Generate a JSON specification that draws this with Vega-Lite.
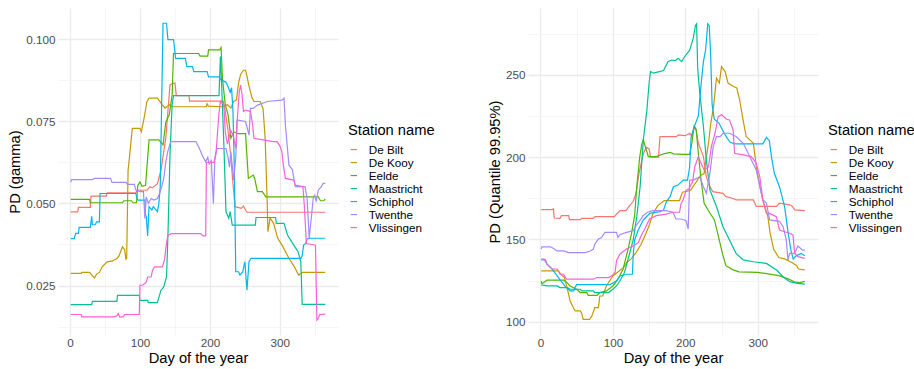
{
  "$schema": "https://vega.github.io/schema/vega-lite/v6.json",
  "background": "white",
  "padding": {"left": 7, "top": 8, "right": 0, "bottom": 0},
  "spacing": 52,
  "config": {
    "font": "Liberation Sans",
    "view": {"stroke": null},
    "axis": {
      "domain": false,
      "ticks": false,
      "labelColor": "#4D4D4D",
      "labelFontSize": 11.7,
      "titleFontSize": 14.7,
      "titleFontWeight": "normal",
      "titleColor": "#000000",
      "labelPadding": 3,
      "titlePadding": 3
    },
    "legend": {
      "symbolType": "stroke",
      "symbolSize": 40,
      "symbolStrokeWidth": 1.2,
      "labelFontSize": 11.7,
      "labelColor": "#000000",
      "titleFontSize": 14.7,
      "titleFontWeight": "normal",
      "titleColor": "#000000",
      "labelOffset": 9,
      "titlePadding": 6,
      "rowPadding": 0
    },
    "line": {"strokeWidth": 1.2}
  },
  "datasets": {
    "gamma": [
      {"station": "De Bilt", "day": 1, "pd": 0.0474}, {"station": "De Bilt", "day": 11, "pd": 0.0474}, {"station": "De Bilt", "day": 12, "pd": 0.0488}, {"station": "De Bilt", "day": 29, "pd": 0.0488}, {"station": "De Bilt", "day": 30, "pd": 0.0522}, {"station": "De Bilt", "day": 52, "pd": 0.0522}, {"station": "De Bilt", "day": 53, "pd": 0.0532}, {"station": "De Bilt", "day": 94, "pd": 0.0532}, {"station": "De Bilt", "day": 96, "pd": 0.054}, {"station": "De Bilt", "day": 110, "pd": 0.054}, {"station": "De Bilt", "day": 114, "pd": 0.055}, {"station": "De Bilt", "day": 118, "pd": 0.0548}, {"station": "De Bilt", "day": 125, "pd": 0.056}, {"station": "De Bilt", "day": 130, "pd": 0.06}, {"station": "De Bilt", "day": 137, "pd": 0.07}, {"station": "De Bilt", "day": 143, "pd": 0.0862}, {"station": "De Bilt", "day": 150, "pd": 0.0866}, {"station": "De Bilt", "day": 152, "pd": 0.0828}, {"station": "De Bilt", "day": 170, "pd": 0.0828}, {"station": "De Bilt", "day": 171, "pd": 0.0811}, {"station": "De Bilt", "day": 219, "pd": 0.0811}, {"station": "De Bilt", "day": 222, "pd": 0.078}, {"station": "De Bilt", "day": 226, "pd": 0.072}, {"station": "De Bilt", "day": 230, "pd": 0.064}, {"station": "De Bilt", "day": 233, "pd": 0.056}, {"station": "De Bilt", "day": 236, "pd": 0.049}, {"station": "De Bilt", "day": 245, "pd": 0.0485}, {"station": "De Bilt", "day": 248, "pd": 0.0492}, {"station": "De Bilt", "day": 251, "pd": 0.048}, {"station": "De Bilt", "day": 253, "pd": 0.0473}, {"station": "De Bilt", "day": 365, "pd": 0.0473},
      {"station": "De Kooy", "day": 1, "pd": 0.0287}, {"station": "De Kooy", "day": 16, "pd": 0.0287}, {"station": "De Kooy", "day": 17, "pd": 0.029}, {"station": "De Kooy", "day": 28, "pd": 0.029}, {"station": "De Kooy", "day": 32, "pd": 0.028}, {"station": "De Kooy", "day": 35, "pd": 0.0273}, {"station": "De Kooy", "day": 38, "pd": 0.0285}, {"station": "De Kooy", "day": 42, "pd": 0.029}, {"station": "De Kooy", "day": 46, "pd": 0.0307}, {"station": "De Kooy", "day": 53, "pd": 0.0322}, {"station": "De Kooy", "day": 61, "pd": 0.0325}, {"station": "De Kooy", "day": 67, "pd": 0.0332}, {"station": "De Kooy", "day": 70, "pd": 0.034}, {"station": "De Kooy", "day": 75, "pd": 0.0368}, {"station": "De Kooy", "day": 78, "pd": 0.036}, {"station": "De Kooy", "day": 80, "pd": 0.033}, {"station": "De Kooy", "day": 81, "pd": 0.0332}, {"station": "De Kooy", "day": 83, "pd": 0.06}, {"station": "De Kooy", "day": 85, "pd": 0.064}, {"station": "De Kooy", "day": 89, "pd": 0.0728}, {"station": "De Kooy", "day": 100, "pd": 0.0728}, {"station": "De Kooy", "day": 102, "pd": 0.0718}, {"station": "De Kooy", "day": 106, "pd": 0.076}, {"station": "De Kooy", "day": 110, "pd": 0.081}, {"station": "De Kooy", "day": 113, "pd": 0.082}, {"station": "De Kooy", "day": 125, "pd": 0.082}, {"station": "De Kooy", "day": 132, "pd": 0.08}, {"station": "De Kooy", "day": 136, "pd": 0.079}, {"station": "De Kooy", "day": 142, "pd": 0.08}, {"station": "De Kooy", "day": 146, "pd": 0.0794}, {"station": "De Kooy", "day": 195, "pd": 0.0794}, {"station": "De Kooy", "day": 196, "pd": 0.0803}, {"station": "De Kooy", "day": 198, "pd": 0.0796}, {"station": "De Kooy", "day": 218, "pd": 0.0794}, {"station": "De Kooy", "day": 225, "pd": 0.08}, {"station": "De Kooy", "day": 230, "pd": 0.079}, {"station": "De Kooy", "day": 234, "pd": 0.081}, {"station": "De Kooy", "day": 238, "pd": 0.0815}, {"station": "De Kooy", "day": 241, "pd": 0.0866}, {"station": "De Kooy", "day": 244, "pd": 0.0893}, {"station": "De Kooy", "day": 248, "pd": 0.0905}, {"station": "De Kooy", "day": 251, "pd": 0.0905}, {"station": "De Kooy", "day": 253, "pd": 0.0888}, {"station": "De Kooy", "day": 255, "pd": 0.0866}, {"station": "De Kooy", "day": 260, "pd": 0.0822}, {"station": "De Kooy", "day": 263, "pd": 0.081}, {"station": "De Kooy", "day": 272, "pd": 0.081}, {"station": "De Kooy", "day": 276, "pd": 0.0788}, {"station": "De Kooy", "day": 279, "pd": 0.07}, {"station": "De Kooy", "day": 282, "pd": 0.05}, {"station": "De Kooy", "day": 283, "pd": 0.0414}, {"station": "De Kooy", "day": 286, "pd": 0.0455}, {"station": "De Kooy", "day": 291, "pd": 0.044}, {"station": "De Kooy", "day": 297, "pd": 0.0394}, {"station": "De Kooy", "day": 304, "pd": 0.037}, {"station": "De Kooy", "day": 313, "pd": 0.0333}, {"station": "De Kooy", "day": 320, "pd": 0.031}, {"station": "De Kooy", "day": 327, "pd": 0.0282}, {"station": "De Kooy", "day": 332, "pd": 0.029}, {"station": "De Kooy", "day": 365, "pd": 0.029},
      {"station": "Eelde", "day": 1, "pd": 0.0512}, {"station": "Eelde", "day": 28, "pd": 0.0512}, {"station": "Eelde", "day": 29, "pd": 0.0502}, {"station": "Eelde", "day": 75, "pd": 0.0502}, {"station": "Eelde", "day": 77, "pd": 0.0508}, {"station": "Eelde", "day": 88, "pd": 0.0508}, {"station": "Eelde", "day": 90, "pd": 0.0502}, {"station": "Eelde", "day": 95, "pd": 0.0502}, {"station": "Eelde", "day": 97, "pd": 0.0555}, {"station": "Eelde", "day": 100, "pd": 0.0565}, {"station": "Eelde", "day": 103, "pd": 0.0552}, {"station": "Eelde", "day": 108, "pd": 0.0555}, {"station": "Eelde", "day": 113, "pd": 0.0693}, {"station": "Eelde", "day": 127, "pd": 0.0693}, {"station": "Eelde", "day": 133, "pd": 0.0678}, {"station": "Eelde", "day": 137, "pd": 0.0748}, {"station": "Eelde", "day": 142, "pd": 0.077}, {"station": "Eelde", "day": 146, "pd": 0.083}, {"station": "Eelde", "day": 148, "pd": 0.0956}, {"station": "Eelde", "day": 184, "pd": 0.0956}, {"station": "Eelde", "day": 186, "pd": 0.0948}, {"station": "Eelde", "day": 197, "pd": 0.0948}, {"station": "Eelde", "day": 198, "pd": 0.0967}, {"station": "Eelde", "day": 214, "pd": 0.0967}, {"station": "Eelde", "day": 216, "pd": 0.0974}, {"station": "Eelde", "day": 218, "pd": 0.088}, {"station": "Eelde", "day": 222, "pd": 0.08}, {"station": "Eelde", "day": 226, "pd": 0.077}, {"station": "Eelde", "day": 230, "pd": 0.0698}, {"station": "Eelde", "day": 234, "pd": 0.0718}, {"station": "Eelde", "day": 240, "pd": 0.0712}, {"station": "Eelde", "day": 251, "pd": 0.0712}, {"station": "Eelde", "day": 255, "pd": 0.0576}, {"station": "Eelde", "day": 262, "pd": 0.0586}, {"station": "Eelde", "day": 264, "pd": 0.0576}, {"station": "Eelde", "day": 268, "pd": 0.0536}, {"station": "Eelde", "day": 275, "pd": 0.0536}, {"station": "Eelde", "day": 280, "pd": 0.052}, {"station": "Eelde", "day": 355, "pd": 0.052}, {"station": "Eelde", "day": 358, "pd": 0.0508}, {"station": "Eelde", "day": 363, "pd": 0.0508}, {"station": "Eelde", "day": 365, "pd": 0.0514},
      {"station": "Maastricht", "day": 1, "pd": 0.0192}, {"station": "Maastricht", "day": 31, "pd": 0.0192}, {"station": "Maastricht", "day": 32, "pd": 0.0202}, {"station": "Maastricht", "day": 67, "pd": 0.0202}, {"station": "Maastricht", "day": 68, "pd": 0.022}, {"station": "Maastricht", "day": 99, "pd": 0.022}, {"station": "Maastricht", "day": 100, "pd": 0.0205}, {"station": "Maastricht", "day": 111, "pd": 0.0205}, {"station": "Maastricht", "day": 112, "pd": 0.0198}, {"station": "Maastricht", "day": 125, "pd": 0.0198}, {"station": "Maastricht", "day": 130, "pd": 0.0236}, {"station": "Maastricht", "day": 134, "pd": 0.0246}, {"station": "Maastricht", "day": 138, "pd": 0.0277}, {"station": "Maastricht", "day": 140, "pd": 0.04}, {"station": "Maastricht", "day": 143, "pd": 0.065}, {"station": "Maastricht", "day": 146, "pd": 0.08}, {"station": "Maastricht", "day": 148, "pd": 0.0828}, {"station": "Maastricht", "day": 213, "pd": 0.0828}, {"station": "Maastricht", "day": 215, "pd": 0.0947}, {"station": "Maastricht", "day": 217, "pd": 0.085}, {"station": "Maastricht", "day": 220, "pd": 0.0678}, {"station": "Maastricht", "day": 223, "pd": 0.0475}, {"station": "Maastricht", "day": 227, "pd": 0.0455}, {"station": "Maastricht", "day": 229, "pd": 0.0475}, {"station": "Maastricht", "day": 232, "pd": 0.0434}, {"station": "Maastricht", "day": 265, "pd": 0.0434}, {"station": "Maastricht", "day": 266, "pd": 0.0457}, {"station": "Maastricht", "day": 294, "pd": 0.0457}, {"station": "Maastricht", "day": 295, "pd": 0.0439}, {"station": "Maastricht", "day": 306, "pd": 0.0439}, {"station": "Maastricht", "day": 311, "pd": 0.0404}, {"station": "Maastricht", "day": 320, "pd": 0.0373}, {"station": "Maastricht", "day": 326, "pd": 0.0353}, {"station": "Maastricht", "day": 330, "pd": 0.0323}, {"station": "Maastricht", "day": 332, "pd": 0.0193}, {"station": "Maastricht", "day": 365, "pd": 0.0193},
      {"station": "Schiphol", "day": 1, "pd": 0.0393}, {"station": "Schiphol", "day": 6, "pd": 0.0393}, {"station": "Schiphol", "day": 8, "pd": 0.0409}, {"station": "Schiphol", "day": 12, "pd": 0.0409}, {"station": "Schiphol", "day": 13, "pd": 0.0427}, {"station": "Schiphol", "day": 29, "pd": 0.0427}, {"station": "Schiphol", "day": 31, "pd": 0.0461}, {"station": "Schiphol", "day": 32, "pd": 0.0435}, {"station": "Schiphol", "day": 36, "pd": 0.0435}, {"station": "Schiphol", "day": 38, "pd": 0.0444}, {"station": "Schiphol", "day": 42, "pd": 0.0444}, {"station": "Schiphol", "day": 43, "pd": 0.053}, {"station": "Schiphol", "day": 94, "pd": 0.053}, {"station": "Schiphol", "day": 97, "pd": 0.051}, {"station": "Schiphol", "day": 107, "pd": 0.051}, {"station": "Schiphol", "day": 108, "pd": 0.0465}, {"station": "Schiphol", "day": 109, "pd": 0.046}, {"station": "Schiphol", "day": 111, "pd": 0.0401}, {"station": "Schiphol", "day": 113, "pd": 0.049}, {"station": "Schiphol", "day": 117, "pd": 0.048}, {"station": "Schiphol", "day": 119, "pd": 0.049}, {"station": "Schiphol", "day": 123, "pd": 0.048}, {"station": "Schiphol", "day": 125, "pd": 0.0475}, {"station": "Schiphol", "day": 127, "pd": 0.05}, {"station": "Schiphol", "day": 129, "pd": 0.055}, {"station": "Schiphol", "day": 133, "pd": 0.1048}, {"station": "Schiphol", "day": 138, "pd": 0.1048}, {"station": "Schiphol", "day": 140, "pd": 0.0998}, {"station": "Schiphol", "day": 148, "pd": 0.0998}, {"station": "Schiphol", "day": 151, "pd": 0.0941}, {"station": "Schiphol", "day": 165, "pd": 0.0941}, {"station": "Schiphol", "day": 167, "pd": 0.0916}, {"station": "Schiphol", "day": 175, "pd": 0.0916}, {"station": "Schiphol", "day": 177, "pd": 0.0901}, {"station": "Schiphol", "day": 196, "pd": 0.0901}, {"station": "Schiphol", "day": 198, "pd": 0.0885}, {"station": "Schiphol", "day": 213, "pd": 0.0885}, {"station": "Schiphol", "day": 216, "pd": 0.0875}, {"station": "Schiphol", "day": 223, "pd": 0.0869}, {"station": "Schiphol", "day": 226, "pd": 0.0855}, {"station": "Schiphol", "day": 229, "pd": 0.0838}, {"station": "Schiphol", "day": 231, "pd": 0.0852}, {"station": "Schiphol", "day": 233, "pd": 0.078}, {"station": "Schiphol", "day": 235, "pd": 0.06}, {"station": "Schiphol", "day": 237, "pd": 0.0292}, {"station": "Schiphol", "day": 241, "pd": 0.0292}, {"station": "Schiphol", "day": 243, "pd": 0.0282}, {"station": "Schiphol", "day": 247, "pd": 0.0292}, {"station": "Schiphol", "day": 250, "pd": 0.0323}, {"station": "Schiphol", "day": 253, "pd": 0.0236}, {"station": "Schiphol", "day": 256, "pd": 0.0323}, {"station": "Schiphol", "day": 259, "pd": 0.0333}, {"station": "Schiphol", "day": 330, "pd": 0.0333}, {"station": "Schiphol", "day": 332, "pd": 0.034}, {"station": "Schiphol", "day": 334, "pd": 0.0373}, {"station": "Schiphol", "day": 337, "pd": 0.0378}, {"station": "Schiphol", "day": 339, "pd": 0.0392}, {"station": "Schiphol", "day": 343, "pd": 0.0394}, {"station": "Schiphol", "day": 365, "pd": 0.0394},
      {"station": "Twenthe", "day": 1, "pd": 0.0564}, {"station": "Twenthe", "day": 2, "pd": 0.0572}, {"station": "Twenthe", "day": 32, "pd": 0.0572}, {"station": "Twenthe", "day": 35, "pd": 0.0576}, {"station": "Twenthe", "day": 58, "pd": 0.0576}, {"station": "Twenthe", "day": 60, "pd": 0.0564}, {"station": "Twenthe", "day": 80, "pd": 0.0564}, {"station": "Twenthe", "day": 82, "pd": 0.0558}, {"station": "Twenthe", "day": 92, "pd": 0.0558}, {"station": "Twenthe", "day": 94, "pd": 0.0541}, {"station": "Twenthe", "day": 100, "pd": 0.0536}, {"station": "Twenthe", "day": 105, "pd": 0.0536}, {"station": "Twenthe", "day": 107, "pd": 0.0454}, {"station": "Twenthe", "day": 109, "pd": 0.052}, {"station": "Twenthe", "day": 112, "pd": 0.05}, {"station": "Twenthe", "day": 116, "pd": 0.0515}, {"station": "Twenthe", "day": 120, "pd": 0.051}, {"station": "Twenthe", "day": 125, "pd": 0.0515}, {"station": "Twenthe", "day": 128, "pd": 0.053}, {"station": "Twenthe", "day": 131, "pd": 0.055}, {"station": "Twenthe", "day": 134, "pd": 0.0575}, {"station": "Twenthe", "day": 137, "pd": 0.0627}, {"station": "Twenthe", "day": 140, "pd": 0.066}, {"station": "Twenthe", "day": 144, "pd": 0.0688}, {"station": "Twenthe", "day": 180, "pd": 0.0688}, {"station": "Twenthe", "day": 185, "pd": 0.0667}, {"station": "Twenthe", "day": 190, "pd": 0.0642}, {"station": "Twenthe", "day": 194, "pd": 0.0627}, {"station": "Twenthe", "day": 197, "pd": 0.064}, {"station": "Twenthe", "day": 199, "pd": 0.062}, {"station": "Twenthe", "day": 202, "pd": 0.063}, {"station": "Twenthe", "day": 205, "pd": 0.05}, {"station": "Twenthe", "day": 207, "pd": 0.063}, {"station": "Twenthe", "day": 210, "pd": 0.0667}, {"station": "Twenthe", "day": 223, "pd": 0.0667}, {"station": "Twenthe", "day": 226, "pd": 0.064}, {"station": "Twenthe", "day": 228, "pd": 0.061}, {"station": "Twenthe", "day": 230, "pd": 0.0657}, {"station": "Twenthe", "day": 234, "pd": 0.0571}, {"station": "Twenthe", "day": 237, "pd": 0.064}, {"station": "Twenthe", "day": 239, "pd": 0.0754}, {"station": "Twenthe", "day": 251, "pd": 0.0749}, {"station": "Twenthe", "day": 256, "pd": 0.0708}, {"station": "Twenthe", "day": 258, "pd": 0.0789}, {"station": "Twenthe", "day": 262, "pd": 0.0789}, {"station": "Twenthe", "day": 268, "pd": 0.0799}, {"station": "Twenthe", "day": 282, "pd": 0.081}, {"station": "Twenthe", "day": 303, "pd": 0.0814}, {"station": "Twenthe", "day": 306, "pd": 0.082}, {"station": "Twenthe", "day": 308, "pd": 0.0738}, {"station": "Twenthe", "day": 313, "pd": 0.0617}, {"station": "Twenthe", "day": 318, "pd": 0.0602}, {"station": "Twenthe", "day": 322, "pd": 0.0551}, {"station": "Twenthe", "day": 336, "pd": 0.0551}, {"station": "Twenthe", "day": 339, "pd": 0.0515}, {"station": "Twenthe", "day": 342, "pd": 0.0394}, {"station": "Twenthe", "day": 345, "pd": 0.0455}, {"station": "Twenthe", "day": 348, "pd": 0.052}, {"station": "Twenthe", "day": 350, "pd": 0.0525}, {"station": "Twenthe", "day": 352, "pd": 0.0505}, {"station": "Twenthe", "day": 355, "pd": 0.054}, {"station": "Twenthe", "day": 359, "pd": 0.055}, {"station": "Twenthe", "day": 362, "pd": 0.0561}, {"station": "Twenthe", "day": 365, "pd": 0.0561},
      {"station": "Vlissingen", "day": 1, "pd": 0.0162}, {"station": "Vlissingen", "day": 16, "pd": 0.0162}, {"station": "Vlissingen", "day": 17, "pd": 0.0155}, {"station": "Vlissingen", "day": 63, "pd": 0.0155}, {"station": "Vlissingen", "day": 67, "pd": 0.0158}, {"station": "Vlissingen", "day": 69, "pd": 0.0165}, {"station": "Vlissingen", "day": 71, "pd": 0.0155}, {"station": "Vlissingen", "day": 76, "pd": 0.0155}, {"station": "Vlissingen", "day": 78, "pd": 0.0162}, {"station": "Vlissingen", "day": 99, "pd": 0.0162}, {"station": "Vlissingen", "day": 100, "pd": 0.0251}, {"station": "Vlissingen", "day": 104, "pd": 0.0251}, {"station": "Vlissingen", "day": 106, "pd": 0.0255}, {"station": "Vlissingen", "day": 109, "pd": 0.026}, {"station": "Vlissingen", "day": 111, "pd": 0.0276}, {"station": "Vlissingen", "day": 116, "pd": 0.0276}, {"station": "Vlissingen", "day": 118, "pd": 0.0297}, {"station": "Vlissingen", "day": 121, "pd": 0.0307}, {"station": "Vlissingen", "day": 132, "pd": 0.0307}, {"station": "Vlissingen", "day": 135, "pd": 0.0327}, {"station": "Vlissingen", "day": 138, "pd": 0.038}, {"station": "Vlissingen", "day": 140, "pd": 0.0403}, {"station": "Vlissingen", "day": 145, "pd": 0.0408}, {"station": "Vlissingen", "day": 187, "pd": 0.0408}, {"station": "Vlissingen", "day": 190, "pd": 0.0401}, {"station": "Vlissingen", "day": 194, "pd": 0.0401}, {"station": "Vlissingen", "day": 195, "pd": 0.0625}, {"station": "Vlissingen", "day": 206, "pd": 0.0625}, {"station": "Vlissingen", "day": 209, "pd": 0.066}, {"station": "Vlissingen", "day": 213, "pd": 0.0774}, {"station": "Vlissingen", "day": 215, "pd": 0.081}, {"station": "Vlissingen", "day": 220, "pd": 0.08}, {"station": "Vlissingen", "day": 222, "pd": 0.0717}, {"station": "Vlissingen", "day": 225, "pd": 0.068}, {"station": "Vlissingen", "day": 230, "pd": 0.0722}, {"station": "Vlissingen", "day": 234, "pd": 0.07}, {"station": "Vlissingen", "day": 237, "pd": 0.0667}, {"station": "Vlissingen", "day": 239, "pd": 0.0749}, {"station": "Vlissingen", "day": 242, "pd": 0.084}, {"station": "Vlissingen", "day": 244, "pd": 0.086}, {"station": "Vlissingen", "day": 246, "pd": 0.083}, {"station": "Vlissingen", "day": 248, "pd": 0.078}, {"station": "Vlissingen", "day": 251, "pd": 0.0784}, {"station": "Vlissingen", "day": 258, "pd": 0.078}, {"station": "Vlissingen", "day": 261, "pd": 0.074}, {"station": "Vlissingen", "day": 263, "pd": 0.0698}, {"station": "Vlissingen", "day": 291, "pd": 0.0688}, {"station": "Vlissingen", "day": 296, "pd": 0.0688}, {"station": "Vlissingen", "day": 300, "pd": 0.0675}, {"station": "Vlissingen", "day": 303, "pd": 0.0657}, {"station": "Vlissingen", "day": 305, "pd": 0.0617}, {"station": "Vlissingen", "day": 308, "pd": 0.0576}, {"station": "Vlissingen", "day": 320, "pd": 0.0571}, {"station": "Vlissingen", "day": 322, "pd": 0.0556}, {"station": "Vlissingen", "day": 333, "pd": 0.0551}, {"station": "Vlissingen", "day": 335, "pd": 0.0495}, {"station": "Vlissingen", "day": 338, "pd": 0.0378}, {"station": "Vlissingen", "day": 351, "pd": 0.0373}, {"station": "Vlissingen", "day": 353, "pd": 0.0145}, {"station": "Vlissingen", "day": 355, "pd": 0.015}, {"station": "Vlissingen", "day": 357, "pd": 0.0162}, {"station": "Vlissingen", "day": 365, "pd": 0.0163}
    ],
    "quantile": [
      {"station": "De Bilt", "day": 1, "pd": 168.1}, {"station": "De Bilt", "day": 16, "pd": 168.1}, {"station": "De Bilt", "day": 18, "pd": 168.5}, {"station": "De Bilt", "day": 19, "pd": 163}, {"station": "De Bilt", "day": 27, "pd": 162.8}, {"station": "De Bilt", "day": 29, "pd": 164.4}, {"station": "De Bilt", "day": 39, "pd": 164.4}, {"station": "De Bilt", "day": 40, "pd": 162}, {"station": "De Bilt", "day": 55, "pd": 162}, {"station": "De Bilt", "day": 57, "pd": 162.8}, {"station": "De Bilt", "day": 73, "pd": 162.8}, {"station": "De Bilt", "day": 75, "pd": 163.8}, {"station": "De Bilt", "day": 102, "pd": 163.8}, {"station": "De Bilt", "day": 105, "pd": 165.4}, {"station": "De Bilt", "day": 110, "pd": 167.5}, {"station": "De Bilt", "day": 118, "pd": 167.5}, {"station": "De Bilt", "day": 123, "pd": 170.5}, {"station": "De Bilt", "day": 128, "pd": 173}, {"station": "De Bilt", "day": 132, "pd": 178}, {"station": "De Bilt", "day": 136, "pd": 190}, {"station": "De Bilt", "day": 142, "pd": 202}, {"station": "De Bilt", "day": 146, "pd": 206}, {"station": "De Bilt", "day": 150, "pd": 205}, {"station": "De Bilt", "day": 152, "pd": 200}, {"station": "De Bilt", "day": 163, "pd": 200}, {"station": "De Bilt", "day": 165, "pd": 212.5}, {"station": "De Bilt", "day": 188, "pd": 212.5}, {"station": "De Bilt", "day": 190, "pd": 213.5}, {"station": "De Bilt", "day": 200, "pd": 213}, {"station": "De Bilt", "day": 206, "pd": 214.5}, {"station": "De Bilt", "day": 209, "pd": 213}, {"station": "De Bilt", "day": 213, "pd": 218.6}, {"station": "De Bilt", "day": 215, "pd": 216}, {"station": "De Bilt", "day": 218, "pd": 208.4}, {"station": "De Bilt", "day": 225, "pd": 200.3}, {"station": "De Bilt", "day": 229, "pd": 188}, {"station": "De Bilt", "day": 234, "pd": 182}, {"station": "De Bilt", "day": 238, "pd": 179}, {"station": "De Bilt", "day": 252, "pd": 178}, {"station": "De Bilt", "day": 256, "pd": 176}, {"station": "De Bilt", "day": 265, "pd": 175}, {"station": "De Bilt", "day": 270, "pd": 174}, {"station": "De Bilt", "day": 294, "pd": 174}, {"station": "De Bilt", "day": 298, "pd": 170}, {"station": "De Bilt", "day": 326, "pd": 170}, {"station": "De Bilt", "day": 330, "pd": 172}, {"station": "De Bilt", "day": 344, "pd": 171}, {"station": "De Bilt", "day": 348, "pd": 170}, {"station": "De Bilt", "day": 351, "pd": 167.9}, {"station": "De Bilt", "day": 365, "pd": 167.5},
      {"station": "De Kooy", "day": 1, "pd": 130.9}, {"station": "De Kooy", "day": 25, "pd": 130.9}, {"station": "De Kooy", "day": 27, "pd": 129.4}, {"station": "De Kooy", "day": 30, "pd": 128}, {"station": "De Kooy", "day": 33, "pd": 127}, {"station": "De Kooy", "day": 36, "pd": 122}, {"station": "De Kooy", "day": 41, "pd": 112.6}, {"station": "De Kooy", "day": 46, "pd": 108}, {"station": "De Kooy", "day": 48, "pd": 106.5}, {"station": "De Kooy", "day": 55, "pd": 106.5}, {"station": "De Kooy", "day": 57, "pd": 105}, {"station": "De Kooy", "day": 59, "pd": 101.4}, {"station": "De Kooy", "day": 68, "pd": 101.4}, {"station": "De Kooy", "day": 71, "pd": 103.4}, {"station": "De Kooy", "day": 75, "pd": 108.5}, {"station": "De Kooy", "day": 80, "pd": 108.5}, {"station": "De Kooy", "day": 82, "pd": 115.6}, {"station": "De Kooy", "day": 86, "pd": 115.6}, {"station": "De Kooy", "day": 91, "pd": 121.7}, {"station": "De Kooy", "day": 100, "pd": 127.8}, {"station": "De Kooy", "day": 109, "pd": 130.9}, {"station": "De Kooy", "day": 115, "pd": 133}, {"station": "De Kooy", "day": 119, "pd": 136}, {"station": "De Kooy", "day": 125, "pd": 138}, {"station": "De Kooy", "day": 132, "pd": 142}, {"station": "De Kooy", "day": 139, "pd": 147}, {"station": "De Kooy", "day": 145, "pd": 153}, {"station": "De Kooy", "day": 150, "pd": 158.3}, {"station": "De Kooy", "day": 155, "pd": 165.4}, {"station": "De Kooy", "day": 162, "pd": 170.5}, {"station": "De Kooy", "day": 171, "pd": 173.6}, {"station": "De Kooy", "day": 192, "pd": 173.6}, {"station": "De Kooy", "day": 196, "pd": 178.7}, {"station": "De Kooy", "day": 207, "pd": 179.7}, {"station": "De Kooy", "day": 212, "pd": 183}, {"station": "De Kooy", "day": 215, "pd": 184.8}, {"station": "De Kooy", "day": 221, "pd": 188.8}, {"station": "De Kooy", "day": 226, "pd": 190}, {"station": "De Kooy", "day": 229, "pd": 200}, {"station": "De Kooy", "day": 232, "pd": 208.4}, {"station": "De Kooy", "day": 235, "pd": 220}, {"station": "De Kooy", "day": 239, "pd": 230.7}, {"station": "De Kooy", "day": 243, "pd": 248}, {"station": "De Kooy", "day": 247, "pd": 245}, {"station": "De Kooy", "day": 250, "pd": 255}, {"station": "De Kooy", "day": 255, "pd": 252}, {"station": "De Kooy", "day": 259, "pd": 245}, {"station": "De Kooy", "day": 266, "pd": 243}, {"station": "De Kooy", "day": 271, "pd": 242}, {"station": "De Kooy", "day": 275, "pd": 234.8}, {"station": "De Kooy", "day": 280, "pd": 222}, {"station": "De Kooy", "day": 284, "pd": 212.5}, {"station": "De Kooy", "day": 289, "pd": 210.5}, {"station": "De Kooy", "day": 294, "pd": 208.4}, {"station": "De Kooy", "day": 298, "pd": 194.2}, {"station": "De Kooy", "day": 303, "pd": 182}, {"station": "De Kooy", "day": 307, "pd": 174}, {"station": "De Kooy", "day": 314, "pd": 163.8}, {"station": "De Kooy", "day": 317, "pd": 154}, {"station": "De Kooy", "day": 322, "pd": 144}, {"station": "De Kooy", "day": 329, "pd": 139}, {"station": "De Kooy", "day": 338, "pd": 138}, {"station": "De Kooy", "day": 347, "pd": 136}, {"station": "De Kooy", "day": 354, "pd": 134}, {"station": "De Kooy", "day": 356, "pd": 132}, {"station": "De Kooy", "day": 365, "pd": 131.5},
      {"station": "Eelde", "day": 1, "pd": 124.6}, {"station": "Eelde", "day": 2, "pd": 123}, {"station": "Eelde", "day": 5, "pd": 124}, {"station": "Eelde", "day": 9, "pd": 125.2}, {"station": "Eelde", "day": 32, "pd": 125.2}, {"station": "Eelde", "day": 36, "pd": 124}, {"station": "Eelde", "day": 41, "pd": 121.7}, {"station": "Eelde", "day": 50, "pd": 119.7}, {"station": "Eelde", "day": 55, "pd": 117.7}, {"station": "Eelde", "day": 64, "pd": 117.7}, {"station": "Eelde", "day": 66, "pd": 116}, {"station": "Eelde", "day": 78, "pd": 116}, {"station": "Eelde", "day": 82, "pd": 117.7}, {"station": "Eelde", "day": 91, "pd": 118.7}, {"station": "Eelde", "day": 100, "pd": 121.7}, {"station": "Eelde", "day": 107, "pd": 125.8}, {"station": "Eelde", "day": 114, "pd": 131.9}, {"station": "Eelde", "day": 121, "pd": 144}, {"station": "Eelde", "day": 126, "pd": 154.3}, {"station": "Eelde", "day": 130, "pd": 164.4}, {"station": "Eelde", "day": 133, "pd": 182}, {"station": "Eelde", "day": 137, "pd": 200}, {"station": "Eelde", "day": 140, "pd": 208}, {"station": "Eelde", "day": 142, "pd": 210.5}, {"station": "Eelde", "day": 145, "pd": 206}, {"station": "Eelde", "day": 149, "pd": 200.3}, {"station": "Eelde", "day": 160, "pd": 200.3}, {"station": "Eelde", "day": 170, "pd": 202}, {"station": "Eelde", "day": 179, "pd": 202.8}, {"station": "Eelde", "day": 184, "pd": 202}, {"station": "Eelde", "day": 197, "pd": 201.6}, {"station": "Eelde", "day": 206, "pd": 201.6}, {"station": "Eelde", "day": 209, "pd": 208.4}, {"station": "Eelde", "day": 212, "pd": 218.6}, {"station": "Eelde", "day": 215, "pd": 217}, {"station": "Eelde", "day": 218, "pd": 202}, {"station": "Eelde", "day": 222, "pd": 185}, {"station": "Eelde", "day": 226, "pd": 172}, {"station": "Eelde", "day": 234, "pd": 166}, {"station": "Eelde", "day": 240, "pd": 162}, {"station": "Eelde", "day": 244, "pd": 155}, {"station": "Eelde", "day": 251, "pd": 142}, {"station": "Eelde", "day": 256, "pd": 134}, {"station": "Eelde", "day": 266, "pd": 131.5}, {"station": "Eelde", "day": 274, "pd": 130.3}, {"station": "Eelde", "day": 300, "pd": 130}, {"station": "Eelde", "day": 329, "pd": 128}, {"station": "Eelde", "day": 342, "pd": 126}, {"station": "Eelde", "day": 352, "pd": 124}, {"station": "Eelde", "day": 358, "pd": 123.7}, {"station": "Eelde", "day": 365, "pd": 124.5},
      {"station": "Maastricht", "day": 1, "pd": 122.3}, {"station": "Maastricht", "day": 5, "pd": 122}, {"station": "Maastricht", "day": 9, "pd": 121.7}, {"station": "Maastricht", "day": 23, "pd": 121.7}, {"station": "Maastricht", "day": 27, "pd": 120.7}, {"station": "Maastricht", "day": 37, "pd": 120.7}, {"station": "Maastricht", "day": 41, "pd": 119.7}, {"station": "Maastricht", "day": 55, "pd": 119.7}, {"station": "Maastricht", "day": 57, "pd": 118.7}, {"station": "Maastricht", "day": 73, "pd": 118.7}, {"station": "Maastricht", "day": 75, "pd": 117.7}, {"station": "Maastricht", "day": 94, "pd": 117.7}, {"station": "Maastricht", "day": 100, "pd": 119.7}, {"station": "Maastricht", "day": 105, "pd": 121.7}, {"station": "Maastricht", "day": 111, "pd": 125.8}, {"station": "Maastricht", "day": 116, "pd": 129.9}, {"station": "Maastricht", "day": 121, "pd": 138}, {"station": "Maastricht", "day": 128, "pd": 149.6}, {"station": "Maastricht", "day": 133, "pd": 163.8}, {"station": "Maastricht", "day": 137.6, "pd": 182}, {"station": "Maastricht", "day": 142, "pd": 210.5}, {"station": "Maastricht", "day": 147, "pd": 228.7}, {"station": "Maastricht", "day": 150, "pd": 245}, {"station": "Maastricht", "day": 152, "pd": 252}, {"station": "Maastricht", "day": 156, "pd": 251}, {"station": "Maastricht", "day": 160, "pd": 251.5}, {"station": "Maastricht", "day": 170, "pd": 252.6}, {"station": "Maastricht", "day": 176, "pd": 258}, {"station": "Maastricht", "day": 181, "pd": 259}, {"station": "Maastricht", "day": 186, "pd": 258.6}, {"station": "Maastricht", "day": 190, "pd": 260}, {"station": "Maastricht", "day": 195, "pd": 258}, {"station": "Maastricht", "day": 199, "pd": 261}, {"station": "Maastricht", "day": 206, "pd": 265}, {"station": "Maastricht", "day": 209, "pd": 269.3}, {"station": "Maastricht", "day": 211, "pd": 272.3}, {"station": "Maastricht", "day": 214, "pd": 280}, {"station": "Maastricht", "day": 215.6, "pd": 281}, {"station": "Maastricht", "day": 217, "pd": 255}, {"station": "Maastricht", "day": 218, "pd": 249}, {"station": "Maastricht", "day": 220, "pd": 238.8}, {"station": "Maastricht", "day": 225, "pd": 218.6}, {"station": "Maastricht", "day": 229, "pd": 198.3}, {"station": "Maastricht", "day": 234, "pd": 180}, {"station": "Maastricht", "day": 243, "pd": 170}, {"station": "Maastricht", "day": 252, "pd": 157.7}, {"station": "Maastricht", "day": 261, "pd": 149.6}, {"station": "Maastricht", "day": 270, "pd": 141.5}, {"station": "Maastricht", "day": 280, "pd": 137.5}, {"station": "Maastricht", "day": 294, "pd": 136.4}, {"station": "Maastricht", "day": 312, "pd": 135.4}, {"station": "Maastricht", "day": 326, "pd": 131.4}, {"station": "Maastricht", "day": 335, "pd": 127.3}, {"station": "Maastricht", "day": 344, "pd": 124.3}, {"station": "Maastricht", "day": 355, "pd": 123.3}, {"station": "Maastricht", "day": 365, "pd": 122.8},
      {"station": "Schiphol", "day": 1, "pd": 137.6}, {"station": "Schiphol", "day": 7, "pd": 137.6}, {"station": "Schiphol", "day": 9, "pd": 135}, {"station": "Schiphol", "day": 16, "pd": 132}, {"station": "Schiphol", "day": 23, "pd": 127.8}, {"station": "Schiphol", "day": 28, "pd": 125}, {"station": "Schiphol", "day": 32, "pd": 122.7}, {"station": "Schiphol", "day": 35, "pd": 121}, {"station": "Schiphol", "day": 41, "pd": 118.7}, {"station": "Schiphol", "day": 46, "pd": 118.7}, {"station": "Schiphol", "day": 48, "pd": 121}, {"station": "Schiphol", "day": 50, "pd": 122.5}, {"station": "Schiphol", "day": 96, "pd": 122.5}, {"station": "Schiphol", "day": 100, "pd": 123.5}, {"station": "Schiphol", "day": 105, "pd": 124.8}, {"station": "Schiphol", "day": 110, "pd": 127.8}, {"station": "Schiphol", "day": 119, "pd": 128.8}, {"station": "Schiphol", "day": 127, "pd": 128.8}, {"station": "Schiphol", "day": 128, "pd": 140}, {"station": "Schiphol", "day": 130, "pd": 149.6}, {"station": "Schiphol", "day": 135, "pd": 155.7}, {"station": "Schiphol", "day": 142, "pd": 161.8}, {"station": "Schiphol", "day": 151, "pd": 165.8}, {"station": "Schiphol", "day": 165, "pd": 166.9}, {"station": "Schiphol", "day": 170, "pd": 167.9}, {"station": "Schiphol", "day": 174, "pd": 173}, {"station": "Schiphol", "day": 179, "pd": 176}, {"station": "Schiphol", "day": 183.5, "pd": 182}, {"station": "Schiphol", "day": 190, "pd": 183}, {"station": "Schiphol", "day": 197, "pd": 186}, {"station": "Schiphol", "day": 203, "pd": 186}, {"station": "Schiphol", "day": 206, "pd": 194}, {"station": "Schiphol", "day": 208, "pd": 212}, {"station": "Schiphol", "day": 212, "pd": 218}, {"station": "Schiphol", "day": 218, "pd": 225}, {"station": "Schiphol", "day": 222, "pd": 245}, {"station": "Schiphol", "day": 225, "pd": 258}, {"station": "Schiphol", "day": 228, "pd": 265}, {"station": "Schiphol", "day": 231, "pd": 281}, {"station": "Schiphol", "day": 233, "pd": 280}, {"station": "Schiphol", "day": 235, "pd": 262}, {"station": "Schiphol", "day": 237, "pd": 232}, {"station": "Schiphol", "day": 240, "pd": 223}, {"station": "Schiphol", "day": 246, "pd": 221}, {"station": "Schiphol", "day": 252, "pd": 216}, {"station": "Schiphol", "day": 257, "pd": 212}, {"station": "Schiphol", "day": 262, "pd": 209}, {"station": "Schiphol", "day": 268, "pd": 208}, {"station": "Schiphol", "day": 307, "pd": 208}, {"station": "Schiphol", "day": 312, "pd": 212}, {"station": "Schiphol", "day": 316, "pd": 210}, {"station": "Schiphol", "day": 319, "pd": 200}, {"station": "Schiphol", "day": 323, "pd": 190}, {"station": "Schiphol", "day": 330, "pd": 182}, {"station": "Schiphol", "day": 337, "pd": 170}, {"station": "Schiphol", "day": 342, "pd": 154}, {"station": "Schiphol", "day": 346, "pd": 143}, {"station": "Schiphol", "day": 349, "pd": 138}, {"station": "Schiphol", "day": 353, "pd": 140}, {"station": "Schiphol", "day": 360, "pd": 141.5}, {"station": "Schiphol", "day": 365, "pd": 140},
      {"station": "Twenthe", "day": 1, "pd": 144.1}, {"station": "Twenthe", "day": 2, "pd": 145.5}, {"station": "Twenthe", "day": 14, "pd": 145.5}, {"station": "Twenthe", "day": 18, "pd": 144.5}, {"station": "Twenthe", "day": 23, "pd": 143}, {"station": "Twenthe", "day": 32, "pd": 143}, {"station": "Twenthe", "day": 39, "pd": 142}, {"station": "Twenthe", "day": 62, "pd": 142}, {"station": "Twenthe", "day": 68, "pd": 142.8}, {"station": "Twenthe", "day": 73, "pd": 144}, {"station": "Twenthe", "day": 75, "pd": 147.1}, {"station": "Twenthe", "day": 80, "pd": 150.2}, {"station": "Twenthe", "day": 84, "pd": 151}, {"station": "Twenthe", "day": 89, "pd": 154.3}, {"station": "Twenthe", "day": 105, "pd": 154.3}, {"station": "Twenthe", "day": 107, "pd": 151.2}, {"station": "Twenthe", "day": 110, "pd": 153}, {"station": "Twenthe", "day": 119, "pd": 154.3}, {"station": "Twenthe", "day": 128, "pd": 155.3}, {"station": "Twenthe", "day": 132, "pd": 158.3}, {"station": "Twenthe", "day": 139, "pd": 162.4}, {"station": "Twenthe", "day": 141.5, "pd": 164.4}, {"station": "Twenthe", "day": 148, "pd": 166.5}, {"station": "Twenthe", "day": 155, "pd": 167.5}, {"station": "Twenthe", "day": 173.5, "pd": 167.5}, {"station": "Twenthe", "day": 183, "pd": 166.5}, {"station": "Twenthe", "day": 187, "pd": 162.4}, {"station": "Twenthe", "day": 194, "pd": 162.4}, {"station": "Twenthe", "day": 199, "pd": 161.8}, {"station": "Twenthe", "day": 201, "pd": 161.4}, {"station": "Twenthe", "day": 204, "pd": 156.3}, {"station": "Twenthe", "day": 206, "pd": 186}, {"station": "Twenthe", "day": 211, "pd": 186}, {"station": "Twenthe", "day": 220, "pd": 188}, {"station": "Twenthe", "day": 225, "pd": 182}, {"station": "Twenthe", "day": 229, "pd": 178}, {"station": "Twenthe", "day": 234, "pd": 190.2}, {"station": "Twenthe", "day": 238.5, "pd": 206.4}, {"station": "Twenthe", "day": 243, "pd": 212.5}, {"station": "Twenthe", "day": 248, "pd": 212.5}, {"station": "Twenthe", "day": 252, "pd": 214.5}, {"station": "Twenthe", "day": 261, "pd": 214.5}, {"station": "Twenthe", "day": 270, "pd": 212.5}, {"station": "Twenthe", "day": 280, "pd": 208.4}, {"station": "Twenthe", "day": 289, "pd": 200.3}, {"station": "Twenthe", "day": 298, "pd": 192}, {"station": "Twenthe", "day": 307, "pd": 174}, {"station": "Twenthe", "day": 312, "pd": 172}, {"station": "Twenthe", "day": 316.5, "pd": 161.8}, {"station": "Twenthe", "day": 330, "pd": 161}, {"station": "Twenthe", "day": 335, "pd": 157.7}, {"station": "Twenthe", "day": 339.4, "pd": 149.6}, {"station": "Twenthe", "day": 341.7, "pd": 137.5}, {"station": "Twenthe", "day": 344, "pd": 141.5}, {"station": "Twenthe", "day": 351, "pd": 141.5}, {"station": "Twenthe", "day": 355.5, "pd": 146}, {"station": "Twenthe", "day": 362, "pd": 143.5}, {"station": "Twenthe", "day": 365, "pd": 143.5},
      {"station": "Vlissingen", "day": 1, "pd": 138}, {"station": "Vlissingen", "day": 5, "pd": 138}, {"station": "Vlissingen", "day": 9, "pd": 135}, {"station": "Vlissingen", "day": 16, "pd": 132}, {"station": "Vlissingen", "day": 23, "pd": 132}, {"station": "Vlissingen", "day": 27, "pd": 128.8}, {"station": "Vlissingen", "day": 32, "pd": 128.8}, {"station": "Vlissingen", "day": 36, "pd": 125.8}, {"station": "Vlissingen", "day": 73, "pd": 125.8}, {"station": "Vlissingen", "day": 78, "pd": 126.8}, {"station": "Vlissingen", "day": 94, "pd": 126.8}, {"station": "Vlissingen", "day": 99, "pd": 128}, {"station": "Vlissingen", "day": 103, "pd": 129.9}, {"station": "Vlissingen", "day": 105, "pd": 137}, {"station": "Vlissingen", "day": 109.6, "pd": 141}, {"station": "Vlissingen", "day": 118.7, "pd": 144.1}, {"station": "Vlissingen", "day": 128, "pd": 146}, {"station": "Vlissingen", "day": 135, "pd": 148}, {"station": "Vlissingen", "day": 139, "pd": 152.2}, {"station": "Vlissingen", "day": 144, "pd": 156.3}, {"station": "Vlissingen", "day": 150.7, "pd": 162.4}, {"station": "Vlissingen", "day": 160, "pd": 164.4}, {"station": "Vlissingen", "day": 173.5, "pd": 165.4}, {"station": "Vlissingen", "day": 183, "pd": 166.5}, {"station": "Vlissingen", "day": 192, "pd": 166.5}, {"station": "Vlissingen", "day": 194, "pd": 171.5}, {"station": "Vlissingen", "day": 197, "pd": 174}, {"station": "Vlissingen", "day": 201, "pd": 179.7}, {"station": "Vlissingen", "day": 205, "pd": 180.7}, {"station": "Vlissingen", "day": 210, "pd": 185}, {"station": "Vlissingen", "day": 213, "pd": 194}, {"station": "Vlissingen", "day": 218, "pd": 200.3}, {"station": "Vlissingen", "day": 222, "pd": 196}, {"station": "Vlissingen", "day": 226, "pd": 192.2}, {"station": "Vlissingen", "day": 232, "pd": 194}, {"station": "Vlissingen", "day": 236, "pd": 206.4}, {"station": "Vlissingen", "day": 241, "pd": 214.5}, {"station": "Vlissingen", "day": 245.4, "pd": 224.6}, {"station": "Vlissingen", "day": 250, "pd": 225.7}, {"station": "Vlissingen", "day": 257, "pd": 223}, {"station": "Vlissingen", "day": 261, "pd": 222.6}, {"station": "Vlissingen", "day": 266, "pd": 216.5}, {"station": "Vlissingen", "day": 268, "pd": 202.3}, {"station": "Vlissingen", "day": 280, "pd": 201.3}, {"station": "Vlissingen", "day": 291, "pd": 200.3}, {"station": "Vlissingen", "day": 298, "pd": 196.3}, {"station": "Vlissingen", "day": 302.8, "pd": 188.2}, {"station": "Vlissingen", "day": 307, "pd": 174}, {"station": "Vlissingen", "day": 312, "pd": 165.8}, {"station": "Vlissingen", "day": 316.5, "pd": 165.8}, {"station": "Vlissingen", "day": 325.7, "pd": 163.8}, {"station": "Vlissingen", "day": 330, "pd": 155.7}, {"station": "Vlissingen", "day": 344, "pd": 153.7}, {"station": "Vlissingen", "day": 348.6, "pd": 152.7}, {"station": "Vlissingen", "day": 351, "pd": 141.5}, {"station": "Vlissingen", "day": 355.5, "pd": 139.5}, {"station": "Vlissingen", "day": 365, "pd": 138.5}
    ]
  },
  "hconcat": [
    {
      "width": 280,
      "height": 327,
      "data": {"name": "gamma"},
      "mark": {"type": "line", "strokeWidth": 1.2},
      "encoding": {
        "x": {
          "field": "day", "type": "quantitative",
          "scale": {"domain": [-17.2, 383.2], "nice": false, "zero": false},
          "axis": {
            "title": "Day of the year",
            "values": [0, 50, 100, 150, 200, 250, 300, 350],
            "labelExpr": "datum.value % 100 === 0 ? datum.label : ''",
            "labelPadding": 2, "titlePadding": 2,
            "gridColor": {"condition": {"test": "datum.value % 100 === 0", "value": "#EBEBEB"}, "value": "#F3F3F3"},
            "gridWidth": {"condition": {"test": "datum.value % 100 === 0", "value": 1.3}, "value": 0.8}
          }
        },
        "y": {
          "field": "pd", "type": "quantitative",
          "scale": {"domain": [0.00996, 0.10944], "nice": false, "zero": false},
          "axis": {
            "title": "PD (gamma)",
            "values": [0.0125, 0.025, 0.0375, 0.05, 0.0625, 0.075, 0.0875, 0.1],
            "labelExpr": "abs(datum.value * 40 - round(datum.value * 40)) < 0.001 ? format(datum.value, '.3f') : ''",
            "gridColor": {"condition": {"test": "abs(datum.value * 40 - round(datum.value * 40)) < 0.001", "value": "#EBEBEB"}, "value": "#F3F3F3"},
            "gridWidth": {"condition": {"test": "abs(datum.value * 40 - round(datum.value * 40)) < 0.001", "value": 1.3}, "value": 0.8}
          }
        },
        "color": {
          "field": "station", "type": "nominal",
          "scale": {
            "domain": ["De Bilt", "De Kooy", "Eelde", "Maastricht", "Schiphol", "Twenthe", "Vlissingen"],
            "range": ["#F8766D", "#C49A00", "#53B400", "#00C094", "#00B6EB", "#A58AFF", "#FB61D7"]
          },
          "legend": {"title": "Station name", "orient": "none", "legendX": 290, "legendY": 115, "rowPadding": 0}
        }
      }
    },
    {
      "width": 290,
      "height": 327,
      "data": {"name": "quantile"},
      "mark": {"type": "line", "strokeWidth": 1.2},
      "encoding": {
        "x": {
          "field": "day", "type": "quantitative",
          "scale": {"domain": [-17.2, 383.2], "nice": false, "zero": false},
          "axis": {
            "title": "Day of the year",
            "values": [0, 50, 100, 150, 200, 250, 300, 350],
            "labelExpr": "datum.value % 100 === 0 ? datum.label : ''",
            "labelPadding": 2, "titlePadding": 2,
            "gridColor": {"condition": {"test": "datum.value % 100 === 0", "value": "#EBEBEB"}, "value": "#F3F3F3"},
            "gridWidth": {"condition": {"test": "datum.value % 100 === 0", "value": 1.3}, "value": 0.8}
          }
        },
        "y": {
          "field": "pd", "type": "quantitative",
          "scale": {"domain": [91.9, 290.6], "nice": false, "zero": false},
          "axis": {
            "title": "PD (Quantile 99.95%)",
            "values": [100, 125, 150, 175, 200, 225, 250, 275],
            "labelExpr": "datum.value % 50 === 0 ? datum.label : ''",
            "gridColor": {"condition": {"test": "datum.value % 50 === 0", "value": "#EBEBEB"}, "value": "#F3F3F3"},
            "gridWidth": {"condition": {"test": "datum.value % 50 === 0", "value": 1.3}, "value": 0.8}
          }
        },
        "color": {
          "field": "station", "type": "nominal",
          "scale": {
            "domain": ["De Bilt", "De Kooy", "Eelde", "Maastricht", "Schiphol", "Twenthe", "Vlissingen"],
            "range": ["#F8766D", "#C49A00", "#53B400", "#00C094", "#00B6EB", "#A58AFF", "#FB61D7"]
          },
          "legend": {"title": "Station name", "orient": "none", "legendX": 300, "legendY": 115, "rowPadding": 0}
        }
      }
    }
  ],
  "resolve": {"scale": {"color": "independent"}, "legend": {"color": "independent"}}
}
